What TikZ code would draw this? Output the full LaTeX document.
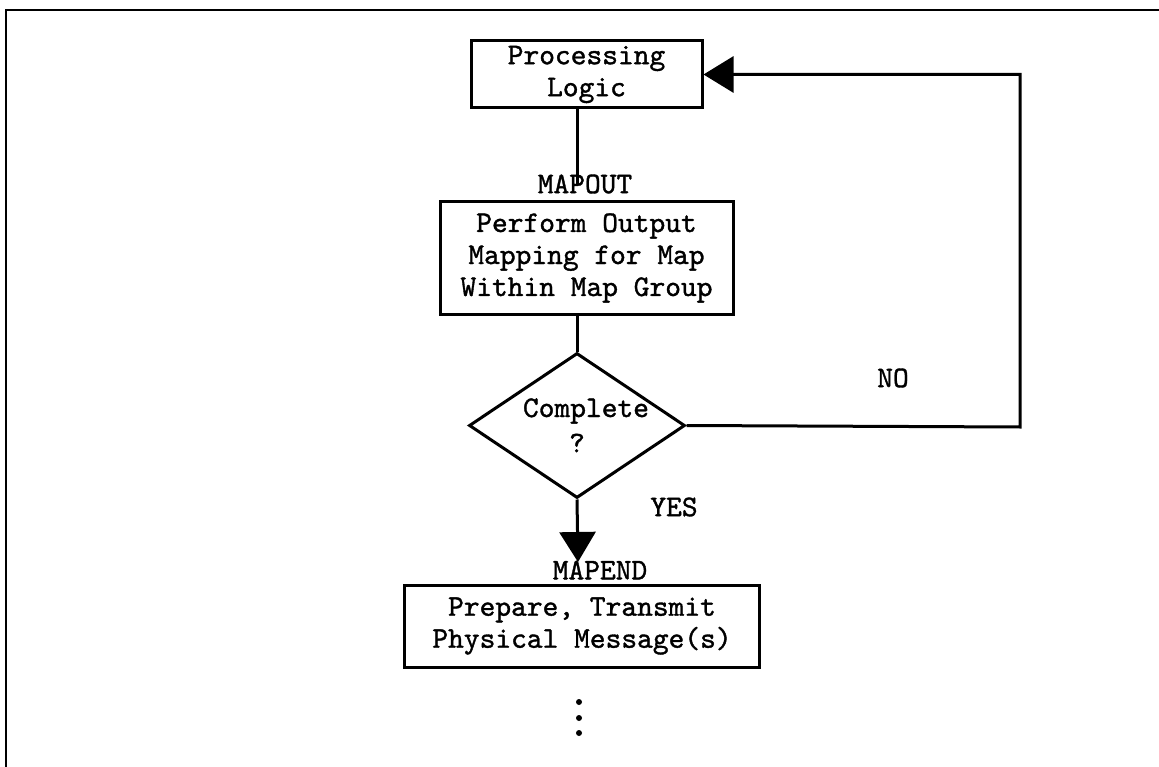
\documentclass[tikz,border=0pt]{standalone}
\usepackage{fontspec}
\setmonofont{lmmono10-regular}[Extension=.otf,FakeBold=1.2]
\usetikzlibrary{arrows.meta,shapes.geometric}
\begin{document}
\begin{tikzpicture}[x=1pt,y=-1pt,
  every node/.style={font=\ttfamily\fontsize{30}{32}\selectfont},
  boxnode/.style={draw,line width=3pt,inner sep=0pt,align=center},
  lbl/.style={inner sep=0pt},
  conn/.style={line width=3pt},
  tri/.style={-{Triangle[length=30pt,width=36pt]}},
  dotnode/.style={circle,fill,inner sep=0pt,minimum size=6pt}]
\useasboundingbox (0,0) rectangle (1159,767);
% frame
\draw[line width=2.5pt] (6,767) -- (6,10) -- (1159,10);
% nodes
\node[boxnode,minimum width=231pt,minimum height=67pt] (proc) at (586.5,74.5) {Processing\\Logic};
\node[lbl] (mapout) at (585,184) {MAPOUT};
\node[boxnode,minimum width=293pt,minimum height=112pt] (perf) at (586.5,258) {Perform Output\\Mapping for Map\\Within Map Group};
\node[diamond,draw,line width=3pt,inner sep=0pt,minimum width=216pt,minimum height=145pt] (dia) at (577,425.5) {};
\node[lbl] (compl) at (586,411) {Complete};
\node[lbl] (qm) at (577,443) {?};
\node[lbl] (no) at (893,378) {NO};
\node[lbl] (yes) at (674,507) {YES};
\node[lbl] (mapend) at (600,570) {MAPEND};
\node[boxnode,minimum width=355pt,minimum height=82pt] (prep) at (582,626) {Prepare, Transmit\\Physical Message(s)};
\node[dotnode] (d1) at (579,702) {};
\node[dotnode] (d2) at (579,718) {};
\node[dotnode] (d3) at (579,733) {};
\coordinate (endtip) at (578,562);
\coordinate (loopc) at (1020,427);
% connectors
\draw[conn] (proc.south -| dia.north) -- (mapout.center -| dia.north);
\draw[conn] (perf.south -| dia.north) -- (dia.north);
\draw[conn,tri] (dia.south) -- (endtip);
\draw[conn,tri] (dia.east) -- (loopc) |- (proc.east);
\end{tikzpicture}
\end{document}
